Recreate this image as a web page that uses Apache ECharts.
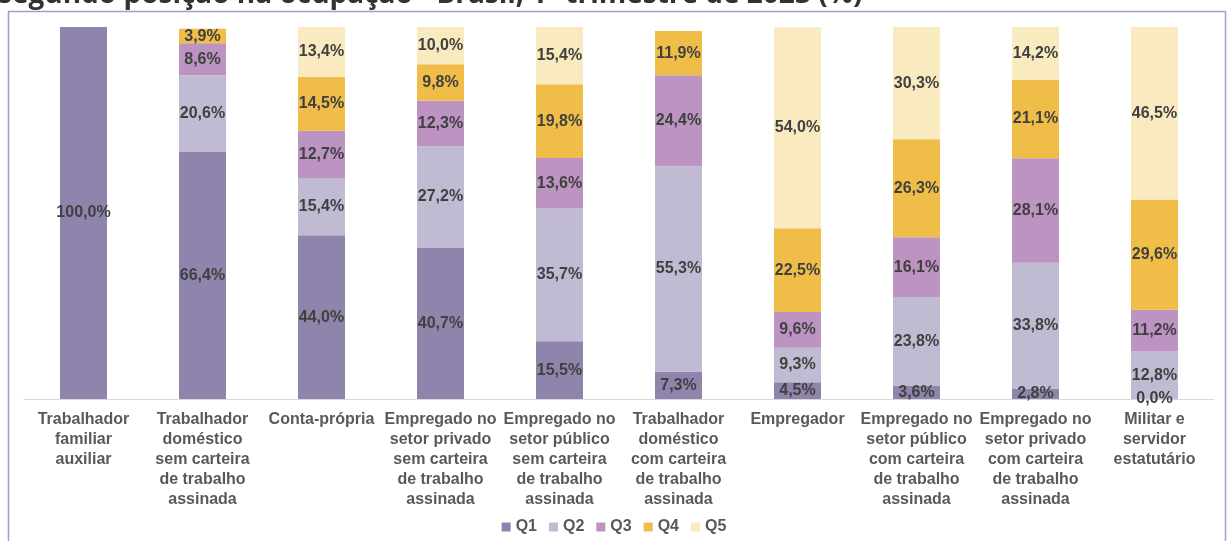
<!DOCTYPE html>
<html>
<head>
<meta charset="utf-8">
<script src="https://cdn.jsdelivr.net/npm/echarts@6/dist/echarts.min.js"></script>
<style>
  html, body { margin: 0; padding: 0; background: #fff; }
  #chart { width: 1228px; height: 541px; }
</style>
</head>
<body>
<div id="chart"></div>
<script>
// categorias (posição na ocupação)
var categorias = [
  'Trabalhador\nfamiliar\nauxiliar',
  'Trabalhador\ndoméstico\nsem carteira\nde trabalho\nassinada',
  'Conta-própria',
  'Empregado no\nsetor privado\nsem carteira\nde trabalho\nassinada',
  'Empregado no\nsetor público\nsem carteira\nde trabalho\nassinada',
  'Trabalhador\ndoméstico\ncom carteira\nde trabalho\nassinada',
  'Empregador',
  'Empregado no\nsetor público\ncom carteira\nde trabalho\nassinada',
  'Empregado no\nsetor privado\ncom carteira\nde trabalho\nassinada',
  'Militar e\nservidor\nestatutário'
]
var quintis = ['Q1', 'Q2', 'Q3', 'Q4', 'Q5']
var q1 = [100.0, 66.4, 44.0, 40.7, 15.5, 7.3, 4.5, 3.6, 2.8, 0.0]
var q2 = [null, 20.6, 15.4, 27.2, 35.7, 55.3, 9.3, 23.8, 33.8, 12.8]
var q3 = [null, 8.6, 12.7, 12.3, 13.6, 24.4, 9.6, 16.1, 28.1, 11.2]
var q4 = [null, 3.9, 14.5, 9.8, 19.8, 11.9, 22.5, 26.3, 21.1, 29.6]
var q5 = [null, null, 13.4, 10.0, 15.4, null, 54.0, 30.3, 14.2, 46.5]
var cores = ['#8f85ac', '#c1bad3', '#bc93c1', '#efbd48', '#f9eac0']

var titulo = 'segundo posição na ocupação - Brasil, 1º trimestre de 2023 (%)'

var valores = [q1, q2, q3, q4, q5]
var fonte = 'Liberation Sans, Arial, sans-serif'

function fmt (p) {
  if (p.value === null || p.value === undefined) return ''
  return p.value.toFixed(1).replace('.', ',') + '%'
}

var series = []
for (var i = 0; i < quintis.length; i++) {
  series.push({
    name: quintis[i],
    type: 'bar',
    stack: 'total',
    barWidth: 47,
    data: valores[i],
    itemStyle: { color: cores[i] },
    label: {
      show: true,
      position: 'inside',
      formatter: fmt,
      color: '#404040',
      fontFamily: fonte,
      fontWeight: 'bold',
      fontSize: 16
    }
  })
}

var chart = echarts.init(document.getElementById('chart'))
chart.setOption({
  animation: false,
  backgroundColor: '#fff',
  graphic: [
    {
      type: 'text',
      left: -2,
      top: -19,
      style: {
        text: titulo,
        fill: '#333',
        font: 'bold 28px "Open Sans", "Liberation Sans", sans-serif'
      }
    },
    {
      type: 'rect',
      shape: { x: 8.5, y: 11.5, width: 1217, height: 560 },
      style: { fill: 'none', stroke: '#a99cc8', lineWidth: 1.5 },
      silent: true
    }
  ],
  grid: { left: 24, right: 14, top: 27, bottom: 142 },
  legend: {
    bottom: 1,
    left: 'center',
    itemWidth: 9,
    itemHeight: 9,
    itemGap: 12,
    icon: 'rect',
    textStyle: {
      color: '#595959',
      fontFamily: fonte,
      fontWeight: 'bold',
      fontSize: 16
    },
    data: quintis
  },
  xAxis: {
    type: 'category',
    data: categorias,
    axisTick: { show: false },
    axisLine: { lineStyle: { color: '#d9d9d9', width: 1 } },
    axisLabel: {
      interval: 0,
      margin: 11,
      color: '#595959',
      fontFamily: fonte,
      fontWeight: 'bold',
      fontSize: 16,
      lineHeight: 20
    }
  },
  yAxis: {
    type: 'value',
    min: 0,
    max: 100,
    show: false
  },
  series: series
})
</script>
</body>
</html>
